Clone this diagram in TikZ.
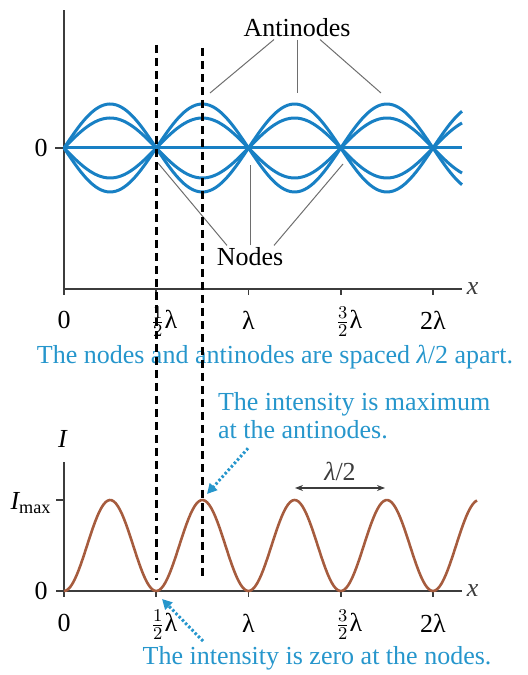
\documentclass[tikz,border=0pt]{standalone}
\usepackage{fontspec}
\setmainfont{Liberation Serif}
\usetikzlibrary{arrows.meta}
\definecolor{waveblue}{RGB}{24,128,196}
\definecolor{capblue}{RGB}{38,150,204}
\definecolor{intbrown}{RGB}{166,92,62}
\definecolor{axisgray}{RGB}{60,60,60}
\definecolor{leadgray}{RGB}{110,110,110}
\newcommand{\halfl}{$\frac{1}{2}$λ}
\newcommand{\threehalfl}{$\frac{3}{2}$λ}
\begin{document}
\begin{tikzpicture}[x=0.5pt,y=0.5pt,every node/.style={font=\fontsize{13}{14}\selectfont},
  axisline/.style={axisgray,line width=0.8pt},
  leader/.style={leadgray,line width=0.5pt},
  guide/.style={black,line width=1.5pt,dash pattern=on 4pt off 2.5pt},
  wave/.style={waveblue,line width=1.5pt},
  hint/.style={capblue,line width=1.5pt,dash pattern=on 1.2pt off 1.1pt,-{Triangle[length=5pt,width=5pt]}}]
\useasboundingbox (0,0) rectangle (527,675);
% Standing wave: axes
\draw[axisline] (64,380) -- (64,665);
\draw[axisline] (64,386) -- (462,386) node[right,inner sep=2pt] (xtop) {\textit{x}};
\foreach \t in {156.25,248.5,340.75,433} \draw[axisline] (\t,386) -- (\t,380);
\draw[axisline] (55,527) -- (64,527);
\node (ztop) at (41,527) {0};
% snapshots of the string
\foreach \a in {44,30,-30,-44}
  \draw[wave] plot[domain=64:462,samples=140] (\x,{527+\a*sin((\x-64)/92.25*180)});
\draw[wave] (64,527) -- (462,527);
% tick labels
\node (t0) at (64,355) {0};
\node (t1) at (164,353) {\halfl};
\node (t2) at (248.5,355) {λ};
\node (t3) at (349,353) {\threehalfl};
\node (t4) at (433,355) {2λ};
% antinodes and nodes
\node[inner sep=1pt] (anti) at (297,647) {Antinodes};
\coordinate (an1) at (210,582);
\coordinate (an2) at (297,582);
\coordinate (an3) at (381,582);
\draw[leader] (anti.south) ++(-23,0) -- (an1);
\draw[leader] (anti.south) -- (an2);
\draw[leader] (anti.south) ++(23,0) -- (an3);
\node[inner sep=1pt] (nd) at (250,418) {Nodes};
\coordinate (nd1) at (158,512);
\coordinate (nd2) at (250,510);
\coordinate (nd3) at (343,511);
\draw[leader] (nd.north) ++(-23,0) -- (nd1);
\draw[leader] (nd.north) -- (nd2);
\draw[leader] (nd.north) ++(24,0) -- (nd3);
\node[capblue] (cap) at (275,318) {The nodes and antinodes are spaced \textit{λ}/2 apart.};
% Intensity: axes
\draw[axisline] (64,78) -- (64,213);
\draw[axisline] (64,84) -- (462,84) node[right,inner sep=2pt] (xbot) {\textit{x}};
\foreach \t in {156.25,248.5,340.75,433} \draw[axisline] (\t,84) -- (\t,78);
\draw[axisline] (56,84) -- (64,84);
\draw[axisline] (56,175) -- (64,175);
\node (zbot) at (41,84) {0};
\node (imax) at (31,172) {$\textit{I}_{\mathrm{max}}$};
\node (ilab) at (63,236) {\textit{I}};
\draw[intbrown,line width=1.3pt] plot[domain=64:477,samples=200] (\x,{84+45.5*(1-cos((\x-64)/92.25*360))});
\node (b0) at (64,52) {0};
\node (b1) at (164,50) {\halfl};
\node (b2) at (248.5,52) {λ};
\node (b3) at (349,50) {\threehalfl};
\node (b4) at (433,52) {2λ};
% spacing of the peaks
\coordinate (h1) at (295,187);
\coordinate (h2) at (385,187);
\draw[axisgray,line width=0.6pt,{Stealth[length=4pt]}-{Stealth[length=4pt]}] (h1) -- (h2) node[midway,above] (hl) {\textit{λ}/2};
% notes
\node[capblue,align=left,anchor=west] (maxtxt) at (211,259) {The intensity is maximum\\at the antinodes.};
\coordinate (pk) at (207,181);
\draw[hint] (maxtxt.south west) ++(37,-2) -- (pk);
\node[capblue] (zerotxt) at (317,17) {The intensity is zero at the nodes.};
\coordinate (tr) at (162,76);
\draw[hint] (zerotxt.north) ++(-114,-2) -- (tr);
% dashed guides
\coordinate (d1t) at (156,630);
\coordinate (d1b) at (156,95);
\coordinate (d2t) at (202,627);
\coordinate (d2b) at (202,95);
\draw[guide] (d1t) -- (d1b);
\draw[guide] (d2t) -- (d2b);
\end{tikzpicture}
\end{document}
